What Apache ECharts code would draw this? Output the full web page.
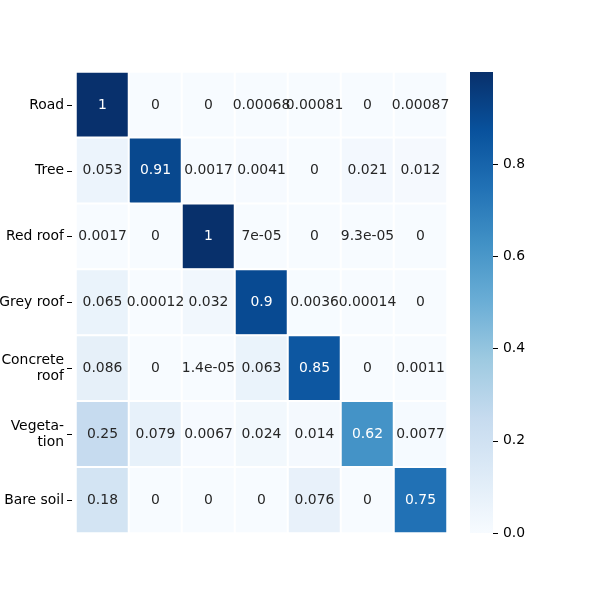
<!DOCTYPE html>
<html><head><meta charset="utf-8">
<script src="https://cdn.jsdelivr.net/npm/echarts@6/dist/echarts.min.js"></script>
<style>html,body{margin:0;padding:0;background:#fff}#c{width:600px;height:600px}</style>
</head><body><div id="c"></div>
<script>
const rowLabels = ['Road','Tree','Red roof','Grey roof','Concrete\nroof','Vegeta-\ntion','Bare soil'];
const colLabels = ['Road','Tree','Red roof','Grey roof','Concrete roof','Vegetation','Bare soil'];
const rowRoad      = [0.998, 0, 0, 0.00068, 0.00081, 0, 0.00087];
const rowTree      = [0.053, 0.91, 0.0017, 0.0041, 0, 0.021, 0.012];
const rowRedRoof   = [0.0017, 0, 0.9998, 7e-05, 0, 9.3e-05, 0];
const rowGreyRoof  = [0.065, 0.00012, 0.032, 0.9, 0.0036, 0.00014, 0];
const rowConcrete  = [0.086, 0, 1.4e-05, 0.063, 0.85, 0, 0.0011];
const rowVegetation= [0.25, 0.079, 0.0067, 0.024, 0.014, 0.62, 0.0077];
const rowBareSoil  = [0.18, 0, 0, 0, 0.076, 0, 0.75];
const colorbarTicks = [0, 0.2, 0.4, 0.6, 0.8];

const rows = [rowRoad,rowTree,rowRedRoof,rowGreyRoof,rowConcrete,rowVegetation,rowBareSoil];
const data = [];
rows.forEach((r,i)=>r.forEach((v,j)=>data.push([j,i,v])));
const vmax = Math.max(...data.map(d=>d[2]));

function fmt(v){
  if(v===0) return '0';
  const e = Math.floor(Math.log10(Math.abs(v)));
  let p = Number(v).toPrecision(2);
  if(e < -4 || e >= 2){
    let [m,ex] = Number(v).toExponential(1).split('e');
    m = m.replace(/\.0$/,'');
    let n = parseInt(ex,10);
    return m + 'e' + (n<0?'-':'+') + String(Math.abs(n)).padStart(2,'0');
  }
  if(p.indexOf('.')>=0) p = p.replace(/0+$/,'').replace(/\.$/,'');
  return p;
}

const blues = ['#f7fbff','#deebf7','#c6dbef','#9ecae1','#6baed6','#4292c6','#2171b5','#08519c','#08306b'];
const font = 'DejaVu Sans';
const chart = echarts.init(document.getElementById('c'));
const cb = {left:470, top:72, width:23, height:461};
chart.setOption({
  animation:false,
  grid:[
    {left:76, top:72, width:371, height:461, outerBoundsMode:'none', containLabel:false},
    {left:cb.left + cb.width, top:cb.top, width:1, height:cb.height, outerBoundsMode:'none', containLabel:false}
  ],
  xAxis:[
    {type:'category', data:colLabels, gridIndex:0, show:false},
    {type:'value', gridIndex:1, show:false, min:0, max:1}
  ],
  yAxis:[
    {type:'category', data:rowLabels, gridIndex:0, inverse:true, offset:4,
     axisLine:{show:false}, axisTick:{show:true, alignWithLabel:true, length:5, lineStyle:{color:'#000'}},
     splitLine:{show:false},
     axisLabel:{color:'#000', fontSize:13.9, fontFamily:font, margin:8, lineHeight:16}},
    {type:'value', gridIndex:1, position:'left', min:0, max:vmax,
     axisLine:{show:false}, splitLine:{show:false},
     axisTick:{show:true, inside:true, length:5, lineStyle:{color:'#000'}, customValues:colorbarTicks},
     axisLabel:{inside:true, color:'#000', fontSize:13.9, fontFamily:font, margin:10, customValues:colorbarTicks,
       formatter:v=>v.toFixed(1)}}
  ],
  visualMap:{
    type:'continuous', show:false, min:0, max:vmax, seriesIndex:0,
    inRange:{color:blues}
  },
  graphic:[{
    type:'rect', left:cb.left, top:cb.top, silent:true, z:-1,
    shape:{width:cb.width, height:cb.height},
    style:{fill:new echarts.graphic.LinearGradient(0,1,0,0,
      blues.map((c,i)=>({offset:i/(blues.length-1), color:c})))}
  }],
  series:[{
    type:'heatmap', xAxisIndex:0, yAxisIndex:0,
    data:data.map(d=>({value:d, label:{color: d[2]>0.5?'#fff':'#262626'}})),
    itemStyle:{borderColor:'#fff', borderWidth:2},
    label:{show:true, fontSize:13.9, fontFamily:font, formatter:p=>fmt(p.value[2])},
    labelLayout:{hideOverlap:false}
  }]
});
</script></body></html>
